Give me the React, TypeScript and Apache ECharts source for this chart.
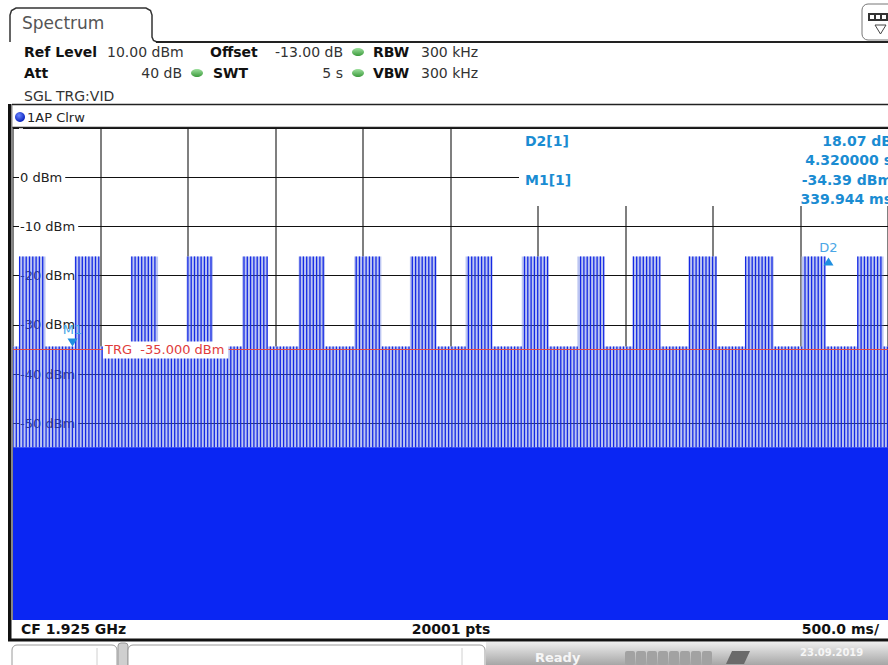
import React, { useEffect, useRef } from "react";
import * as echarts from "echarts";

// ---- data ----
const timeTicks = [0, 0.5, 1, 1.5, 2, 2.5, 3, 3.5, 4, 4.5, 5]; // s (500 ms/div)
const levelTicks = [10, 0, -10, -20, -30, -40, -50, -60, -70, -80, -90]; // dBm
const burstStart = [0.035, 0.352, 0.673, 0.991, 1.309, 1.632, 1.95, 2.268, 2.586, 2.907, 3.225, 3.542, 3.86, 4.184, 4.507, 4.824];
const burstEnd = [0.186, 0.494, 0.829, 1.143, 1.456, 1.783, 2.105, 2.421, 2.739, 3.06, 3.378, 3.696, 4.023, 4.347, 4.641, 4.975];
const burstTop = [-16.1, -16.1, -16.1, -16.1, -16.1, -16.1, -16.1, -16.1, -16.1, -16.1, -16.1, -16.1, -16.1, -16.1, -16.1, -16.1];
const gapTop = -34.4; // dBm, top of spikes between bursts
const floorTop = -54.9; // dBm, top of the solid noise floor
const trgLevel = -35.0;
const markerM1 = { name: "M1", time: 0.339944, level: -34.39 };
const markerD2 = { name: "D2", dTime: 4.32, dLevel: 18.07 };

const ff = '"DejaVu Sans", Verdana, sans-serif';
const sweepStart = timeTicks[0];
const sweepEnd = timeTicks[timeTicks.length - 1];
const yMin = levelTicks[levelTicks.length - 1];
const yMax = levelTicks[0];

// segments built from the burst arrays
const burstData = burstStart.map((s, i) => [s, burstEnd[i], burstTop[i], floorTop]);
const gapData: number[][] = [];
gapData.push([sweepStart, burstStart[0], gapTop, floorTop]);
for (let i = 0; i < burstStart.length - 1; i++) gapData.push([burstEnd[i], burstStart[i + 1], gapTop, floorTop]);
gapData.push([burstEnd[burstEnd.length - 1], sweepEnd, gapTop, floorTop]);
const allSegments = gapData.concat(burstData);

function combItem(params: any, api: any) {
  const s = api.value(0), e = api.value(1), top = api.value(2), bot = api.value(3);
  const a = api.coord([s, top]);
  const b = api.coord([e, bot]);
  const cs = params.coordSys;
  const children: any[] = [
    { type: "rect", shape: { x: a[0], y: a[1], width: b[0] - a[0], height: b[1] - a[1] }, style: { fill: "rgba(96,118,224,0.42)" } },
  ];
  const step = 3.3;
  let x = cs.x + Math.ceil((a[0] - cs.x) / step) * step;
  for (; x <= b[0]; x += step) {
    children.push({ type: "line", shape: { x1: x, y1: a[1], x2: x, y2: b[1] }, style: { stroke: "#1529e4", lineWidth: 1.3 } });
  }
  return { type: "group", children };
}

function backItem(params: any, api: any) {
  const a = api.coord([api.value(0), api.value(2)]);
  const b = api.coord([api.value(1), api.value(3)]);
  return { type: "rect", shape: { x: a[0], y: a[1], width: b[0] - a[0], height: b[1] - a[1] }, style: { fill: "#ffffff" } };
}

function floorItem(params: any, api: any) {
  const a = api.coord([api.value(0), api.value(2)]);
  const b = api.coord([api.value(1), api.value(3)]);
  return { type: "rect", shape: { x: a[0], y: a[1], width: b[0] - a[0], height: b[1] - a[1] }, style: { fill: "#0a26f3" } };
}

function t(text: string, x: number, y: number, o: any = {}) {
  return {
    type: "text",
    x,
    y,
    z: 100,
    style: {
      text,
      fill: o.fill || "#222",
      fontSize: o.size || 14,
      fontWeight: o.bold ? "bold" : "normal",
      fontFamily: ff,
      align: o.align || "left",
      verticalAlign: "middle",
      textAlign: o.align || "left",
      textVerticalAlign: "middle",
      backgroundColor: o.bg,
      padding: o.pad,
    },
  };
}

function dot(cx: number, cy: number) {
  return {
    type: "ellipse",
    z: 100,
    shape: { cx, cy, rx: 6, ry: 4 },
    style: {
      fill: new echarts.graphic.LinearGradient(0, 0, 0, 1, [
        { offset: 0, color: "#9ee09e" },
        { offset: 1, color: "#3c9a3c" },
      ]),
    },
  };
}

function buildGraphics(trgY: number) {
  const mc = "#1a8cd2";
  const els: any[] = [
    // tab
    { type: "polyline", z: 100, shape: { points: [[10, 42], [10, 15], [11.5, 10.5], [16, 8], [146, 8], [150.5, 10.5], [152, 15], [152, 37], [153.5, 40.5], [157, 42]] }, style: { stroke: "#333", lineWidth: 1.5, fill: null } },
    { type: "line", z: 100, shape: { x1: 156, y1: 42, x2: 888, y2: 42 }, style: { stroke: "#222", lineWidth: 2 } },
    t("Spectrum", 22, 23, { size: 17, fill: "#555" }),
    // top-right icon
    { type: "rect", z: 100, shape: { x: 862, y: 4, width: 34, height: 36, r: 6 }, style: { fill: "#fff", stroke: "#777", lineWidth: 1 } },
    { type: "rect", z: 100, shape: { x: 868, y: 13, width: 22, height: 8 }, style: { fill: "#333" } },
    { type: "rect", z: 100, shape: { x: 870, y: 15, width: 4, height: 4 }, style: { fill: "#fff" } },
    { type: "rect", z: 100, shape: { x: 876, y: 15, width: 4, height: 4 }, style: { fill: "#fff" } },
    { type: "rect", z: 100, shape: { x: 882, y: 15, width: 4, height: 4 }, style: { fill: "#fff" } },
    { type: "polygon", z: 100, shape: { points: [[875, 25], [886, 25], [880.5, 34]] }, style: { fill: "#fff", stroke: "#444", lineWidth: 1 } },
    // info rows
    t("Ref Level", 24, 52, { bold: true, fill: "#111" }),
    t("10.00 dBm", 107, 52, { fill: "#333" }),
    t("Offset", 210, 52, { bold: true, fill: "#111" }),
    t("-13.00 dB", 343, 52, { fill: "#333", align: "right" }),
    dot(358, 52),
    t("RBW", 373, 52, { bold: true, fill: "#111" }),
    t("300 kHz", 421, 52, { fill: "#333" }),
    t("Att", 24, 73, { bold: true, fill: "#111" }),
    t("40 dB", 182, 73, { fill: "#333", align: "right" }),
    dot(197, 73),
    t("SWT", 213, 73, { bold: true, fill: "#111" }),
    t("5 s", 343, 73, { fill: "#333", align: "right" }),
    dot(358, 73),
    t("VBW", 373, 73, { bold: true, fill: "#111" }),
    t("300 kHz", 421, 73, { fill: "#333" }),
    t("SGL TRG:VID", 24, 96, { fill: "#333" }),
    { type: "line", z: 100, shape: { x1: 12, y1: 104.5, x2: 888, y2: 104.5 }, style: { stroke: "#222", lineWidth: 1.5 } },
    {
      type: "circle",
      z: 100,
      shape: { cx: 20, cy: 117, r: 5 },
      style: {
        fill: new echarts.graphic.RadialGradient(0.4, 0.35, 0.7, [
          { offset: 0, color: "#6a86ff" },
          { offset: 1, color: "#0018b8" },
        ]),
      },
    },
    t("1AP Clrw", 27, 117, { size: 13, fill: "#222" }),
    { type: "line", z: 100, shape: { x1: 12, y1: 127.5, x2: 888, y2: 127.5 }, style: { stroke: "#222", lineWidth: 1.5 } },
    // left border
    { type: "rect", z: 100, shape: { x: 8, y: 104, width: 3.5, height: 537 }, style: { fill: "#111" } },
    { type: "line", z: 100, shape: { x1: 12, y1: 105, x2: 12, y2: 640 }, style: { stroke: "#888", lineWidth: 1 } },
    // marker info box
    { type: "rect", z: 90, shape: { x: 519, y: 129, width: 370, height: 77 }, style: { fill: "#fff" } },
    t(`${markerD2.name}[1]`, 525, 141, { bold: true, fill: mc }),
    t(`${markerM1.name}[1]`, 525, 180, { bold: true, fill: mc }),
    t(`${markerD2.dLevel.toFixed(2)} dB`, 892, 141, { bold: true, fill: mc, align: "right" }),
    t(`${markerD2.dTime.toFixed(6)} s`, 892, 160, { bold: true, fill: mc, align: "right" }),
    t(`${markerM1.level.toFixed(2)} dBm`, 892, 180, { bold: true, fill: mc, align: "right" }),
    t(`${(markerM1.time * 1000).toFixed(3)} ms`, 892, 199, { bold: true, fill: mc, align: "right" }),
    // trigger label
    t(`TRG  ${trgLevel.toFixed(3)} dBm`, 103, trgY + 0.5, { size: 13, fill: "#e03c3c", bg: "#fff", pad: [2, 4, 2, 2] }),
    // bottom info row
    { type: "rect", z: 100, shape: { x: 12, y: 620, width: 876, height: 19 }, style: { fill: "#fff" } },
    t("CF 1.925 GHz", 21, 629, { bold: true, fill: "#111" }),
    t("20001 pts", 451, 629, { bold: true, fill: "#111", align: "center" }),
    t("500.0 ms/", 879, 629, { bold: true, fill: "#111", align: "right" }),
    { type: "line", z: 100, shape: { x1: 8, y1: 640, x2: 888, y2: 640 }, style: { stroke: "#111", lineWidth: 3 } },
    // status bar
    { type: "rect", z: 100, shape: { x: 0, y: 642, width: 888, height: 23 }, style: { fill: "#fff" } },
    { type: "rect", z: 100, shape: { x: 12, y: 645, width: 105, height: 26, r: [5, 5, 0, 0] }, style: { fill: "#fff", stroke: "#9a9a9a", lineWidth: 1 } },
    { type: "line", z: 100, shape: { x1: 97, y1: 648, x2: 97, y2: 665 }, style: { stroke: "#d0d0d0", lineWidth: 1 } },
    { type: "rect", z: 100, shape: { x: 118, y: 643, width: 10, height: 26, r: 3 }, style: { fill: "#cfcfcf", stroke: "#999", lineWidth: 1 } },
    { type: "rect", z: 100, shape: { x: 128, y: 645, width: 357, height: 26, r: [5, 5, 0, 0] }, style: { fill: "#fff", stroke: "#9a9a9a", lineWidth: 1 } },
    { type: "line", z: 100, shape: { x1: 462, y1: 648, x2: 462, y2: 665 }, style: { stroke: "#d0d0d0", lineWidth: 1 } },
    {
      type: "rect",
      z: 100,
      shape: { x: 486, y: 642, width: 402, height: 23 },
      style: {
        fill: new echarts.graphic.LinearGradient(0, 0, 0, 1, [
          { offset: 0, color: "#eeeeee" },
          { offset: 1, color: "#a6a6a6" },
        ]),
      },
    },
    t("Ready", 535, 657, { bold: true, size: 13, fill: "#f6f6f6" }),
    t("23.09.2019", 800, 652, { bold: true, size: 10, fill: "#f6f6f6" }),
  ];
  for (let i = 0; i < 8; i++) {
    els.push({ type: "rect", z: 100, shape: { x: 625 + i * 11, y: 651, width: 10, height: 14, r: 2 }, style: { fill: "#a2a2a2" } });
  }
  els.push({ type: "polygon", z: 100, shape: { points: [[726, 664], [732, 651], [750, 651], [744, 664]] }, style: { fill: "#6a6a6a" } });
  return els;
}

export default function App() {
  const ref = useRef<HTMLDivElement>(null);
  useEffect(() => {
    if (!ref.current) return;
    const chart = echarts.init(ref.current, null, { renderer: "svg" });
    const D2time = markerM1.time + markerD2.dTime;
    const D2level = markerM1.level + markerD2.dLevel;
    chart.setOption({
      animation: false,
      backgroundColor: "#fff",
      grid: { left: 13, top: 128, width: 881, height: 492 },
      xAxis: {
        type: "value",
        z: 0,
        min: sweepStart,
        max: sweepEnd,
        interval: 0.5,
        axisLine: { show: false },
        axisTick: { show: false },
        axisLabel: { show: false },
        splitLine: { show: true, lineStyle: { color: "#555", width: 1.5 } },
      },
      yAxis: {
        type: "value",
        z: 2,
        min: yMin,
        max: yMax,
        interval: 10,
        axisLine: { show: false },
        axisTick: { show: false },
        axisLabel: {
          inside: true,
          margin: 6,
          fontFamily: ff,
          fontSize: 13,
          color: "#222",
          backgroundColor: "#fff",
          padding: [2, 3, 2, 1],
          formatter: (v: number) => (v === yMax || v < -50 ? "" : `${v} dBm`),
        },
        splitLine: { show: true, lineStyle: { color: "#111", width: 1 } },
      },
      series: [
        { type: "custom", name: "backing", data: allSegments, encode: { x: [0, 1], y: [2, 3] }, renderItem: backItem, clip: true, z: 1, silent: true },
        { type: "custom", name: "gaps", data: gapData, encode: { x: [0, 1], y: [2, 3] }, renderItem: combItem, clip: true, z: 3 },
        { type: "custom", name: "bursts", data: burstData, encode: { x: [0, 1], y: [2, 3] }, renderItem: combItem, clip: true, z: 3 },
        { type: "custom", name: "floor", data: [[sweepStart, sweepEnd, floorTop, yMin]], encode: { x: [0, 1], y: [2, 3] }, renderItem: floorItem, clip: true, z: 4 },
        {
          type: "line",
          name: "markers",
          data: [],
          z: 5,
          markLine: {
            silent: true,
            symbol: ["none", "none"],
            label: { show: false },
            lineStyle: { color: "#e04848", width: 1, type: "solid" },
            data: [{ yAxis: trgLevel }],
          },
          markPoint: {
            silent: true,
            data: [
              {
                coord: [markerM1.time, markerM1.level],
                symbol: "triangle",
                symbolRotate: 180,
                symbolSize: [10, 8],
                symbolOffset: [0, "-50%"],
                itemStyle: { color: "#1f8fe0" },
                label: { show: true, position: "top", distance: 2, formatter: markerM1.name, color: "#4aa6e6", fontSize: 13, fontFamily: ff },
              },
              {
                coord: [D2time, D2level],
                symbol: "triangle",
                symbolSize: [10, 8],
                symbolOffset: [0, "50%"],
                itemStyle: { color: "#1f8fe0" },
                label: { show: true, position: "top", distance: 3, formatter: markerD2.name, color: "#4aa6e6", fontSize: 13, fontFamily: ff },
              },
            ],
          },
        },
      ],
    });
    const trgY = chart.convertToPixel({ yAxisIndex: 0 }, trgLevel) as number;
    chart.setOption({ graphic: { elements: buildGraphics(trgY) } });
    return () => chart.dispose();
  }, []);
  return <div ref={ref} style={{ position: "fixed", left: 0, top: 0, width: 888, height: 665, background: "#fff" }} />;
}
